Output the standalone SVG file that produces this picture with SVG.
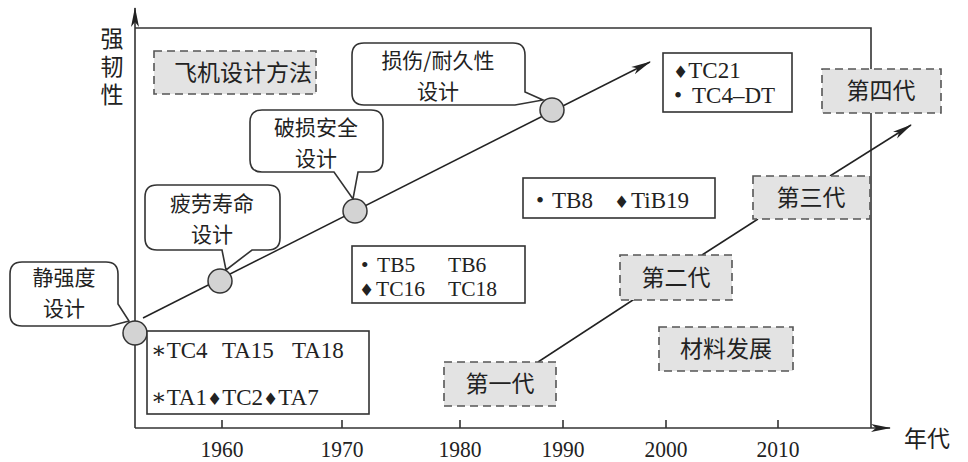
<svg xmlns="http://www.w3.org/2000/svg" width="968" height="462" viewBox="0 0 968 462">
<defs>
<style>
.ax{fill:none;stroke:#333;stroke-width:1.6}
.ln{fill:none;stroke:#222;stroke-width:1.5}
.co{fill:#fff;stroke:#333;stroke-width:1.6}
.bx{fill:#fff;stroke:#333;stroke-width:1.6}
.db{fill:#e3e3e3;stroke:#555;stroke-width:1.6;stroke-dasharray:8 5}
.dot{fill:#d3d3d3;stroke:#333;stroke-width:1.5}
.cn{font-family:"Noto Sans CJK SC","Noto Sans",sans-serif;font-size:23px;fill:#222;text-anchor:middle}
.cl{font-family:"Noto Sans CJK SC","Noto Sans",sans-serif;font-size:21px;fill:#222;text-anchor:middle}
.al{font-family:"Noto Sans CJK SC","Noto Sans",sans-serif;font-size:23px;fill:#222}
.nm{font-family:"Liberation Serif","DejaVu Serif",serif;font-size:23px;fill:#222}
.n2{font-family:"Liberation Serif","DejaVu Serif",serif;font-size:21.5px;fill:#222}
.dm{font-family:"DejaVu Sans",sans-serif;font-size:17px}
.yr{font-family:"Liberation Serif","DejaVu Serif",serif;font-size:24px;fill:#222;text-anchor:middle}
</style>
<marker id="ah" viewBox="0 0 20 10" refX="19" refY="5" markerWidth="20" markerHeight="10" markerUnits="userSpaceOnUse" orient="auto">
<path d="M0,1 L20,5 L0,9 L5,5 Z" fill="#222"/>
</marker>
</defs>

<g id="axes">
<line class="ax" x1="135" y1="428" x2="135" y2="8" marker-end="url(#ah)"/>
<line class="ax" x1="135" y1="428" x2="890" y2="428" marker-end="url(#ah)"/>
<polyline class="ax" points="135,28 871,28 871,428"/>
<g class="ax">
<line x1="222" y1="420" x2="222" y2="428"/>
<line x1="342" y1="420" x2="342" y2="428"/>
<line x1="460" y1="420" x2="460" y2="428"/>
<line x1="563" y1="420" x2="563" y2="428"/>
<line x1="666" y1="420" x2="666" y2="428"/>
<line x1="778" y1="420" x2="778" y2="428"/>
</g>
<text class="yr" x="222" y="457" textLength="43" lengthAdjust="spacingAndGlyphs">1960</text>
<text class="yr" x="342" y="457" textLength="43" lengthAdjust="spacingAndGlyphs">1970</text>
<text class="yr" x="460" y="457" textLength="43" lengthAdjust="spacingAndGlyphs">1980</text>
<text class="yr" x="563" y="457" textLength="43" lengthAdjust="spacingAndGlyphs">1990</text>
<text class="yr" x="666" y="457" textLength="43" lengthAdjust="spacingAndGlyphs">2000</text>
<text class="yr" x="778" y="457" textLength="43" lengthAdjust="spacingAndGlyphs">2010</text>
<text class="al" x="112" y="27" style="writing-mode:vertical-rl;letter-spacing:5px">强韧性</text>
<text class="al" x="904" y="447">年代</text>
</g>

<g id="connectors">
<line class="ln" x1="143" y1="318" x2="650" y2="62" marker-end="url(#ah)"/>
<line class="ln" x1="538" y1="362" x2="636" y2="298"/>
<line class="ln" x1="702" y1="255" x2="758" y2="219"/>
<line class="ln" x1="830" y1="176" x2="911" y2="125" marker-end="url(#ah)"/>
</g>

<g id="design-method">
<rect class="db" x="154" y="51" width="162" height="43"/>
<text class="cn" x="243" y="81">飞机设计方法</text>
</g>

<g id="static-strength">
<path class="co" d="M22,262 H106 Q118,262 118,274 V304 L129,321 L110,326 H22 Q10,326 10,314 V274 Q10,262 22,262 Z"/>
<text class="cl"><tspan x="64" y="285">静强度</tspan><tspan x="64" y="316">设计</tspan></text>
</g>

<g id="fatigue-life">
<path class="co" d="M157,185 H268 Q280,185 280,197 V238 Q280,250 268,250 H252 L226,270 L222,250 H157 Q145,250 145,238 V197 Q145,185 157,185 Z"/>
<text class="cl"><tspan x="212" y="211">疲劳寿命</tspan><tspan x="212" y="242">设计</tspan></text>
</g>

<g id="fail-safe">
<path class="co" d="M262,110 H371 Q383,110 383,122 V160 Q383,172 371,172 H358 L353,199 L334,172 H262 Q250,172 250,160 V122 Q250,110 262,110 Z"/>
<text class="cl"><tspan x="316" y="135">破损安全</tspan><tspan x="316" y="166">设计</tspan></text>
</g>

<g id="damage-tolerance">
<path class="co" d="M364,43 H513 Q525,43 525,55 V92 L543,100 L515,105 H364 Q352,105 352,93 V55 Q352,43 364,43 Z"/>
<text class="cl"><tspan x="438" y="68">损伤/耐久性</tspan><tspan x="438" y="99">设计</tspan></text>
</g>

<g id="points">
<circle class="dot" cx="135" cy="333" r="12"/>
<circle class="dot" cx="220" cy="281" r="12"/>
<circle class="dot" cx="355" cy="211" r="12"/>
<circle class="dot" cx="552" cy="110" r="12"/>
</g>

<g id="alloys-1950s">
<rect class="bx" x="147" y="331" width="222" height="83"/>
<text class="nm"><tspan x="151" y="358">∗TC4</tspan><tspan x="222" y="358">TA15</tspan><tspan x="292" y="358">TA18</tspan><tspan x="151" y="405">∗TA1</tspan><tspan class="dm">♦</tspan>TC2<tspan class="dm">♦</tspan>TA7</text>
</g>

<g id="alloys-1970s">
<rect class="bx" x="352" y="246" width="173" height="57"/>
<text class="n2"><tspan x="361" y="272">•</tspan><tspan x="377" y="272">TB5</tspan><tspan x="448" y="272">TB6</tspan><tspan x="359" y="296" class="dm">♦</tspan><tspan x="376" y="296">TC16</tspan><tspan x="448" y="296">TC18</tspan></text>
</g>

<g id="alloys-1980s">
<rect class="bx" x="523" y="178" width="192" height="40"/>
<text class="nm"><tspan x="536" y="208">•</tspan><tspan x="552" y="208">TB8</tspan><tspan x="614" y="208" class="dm">♦</tspan><tspan x="631" y="208">TiB19</tspan></text>
</g>

<g id="alloys-2000s">
<rect class="bx" x="663" y="53" width="129" height="59"/>
<text class="nm"><tspan x="673" y="78" class="dm">♦</tspan>TC21<tspan x="674" y="103">•</tspan><tspan x="692" y="103">TC4–DT</tspan></text>
</g>

<g id="gen-1">
<rect class="db" x="444" y="362" width="112" height="44"/>
<text class="cn" x="500" y="392">第一代</text>
</g>
<g id="gen-2">
<rect class="db" x="620" y="255" width="112" height="45"/>
<text class="cn" x="676" y="286">第二代</text>
</g>
<g id="gen-3">
<rect class="db" x="753" y="176" width="117" height="43"/>
<text class="cn" x="811" y="206">第三代</text>
</g>
<g id="gen-4">
<rect class="db" x="822" y="69" width="119" height="44"/>
<text class="cn" x="881" y="99">第四代</text>
</g>
<g id="material-development">
<rect class="db" x="659" y="327" width="134" height="44"/>
<text class="cn" x="726" y="357">材料发展</text>
</g>
</svg>
